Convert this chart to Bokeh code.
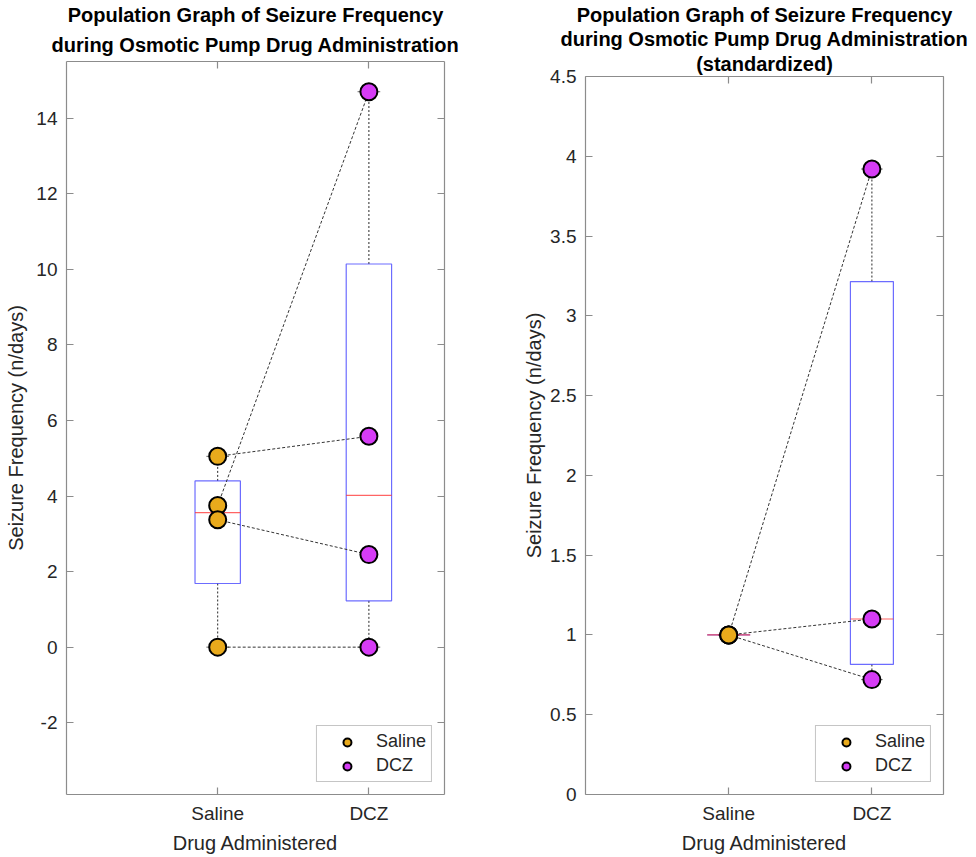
import numpy as np
from bokeh.plotting import figure
from bokeh.layouts import row, column
from bokeh.models import FixedTicker, LinearAxis, Range1d, Title
from bokeh.embed import file_html
from bokeh.resources import INLINE

# Treatment groups and their positions on the x axis
categories = ["Saline", "DCZ"]
cat_pos = [1, 2]

# Seizure frequency per animal (n/days); index i is the same animal in both groups
saline_freq = [5.05, 3.75, 3.37, 0.0]
dcz_freq = [5.58, 14.70, 2.45, 0.0]

# Frequencies standardized to each animal's saline value (zero-baseline animal left out)
saline_std = [1.0, 1.0, 1.0]
dcz_std = [1.10, 3.92, 0.72]

# Axis ticks
raw_ticks = [-2, 0, 2, 4, 6, 8, 10, 12, 14]
raw_tick_labels = ["-2", "0", "2", "4", "6", "8", "10", "12", "14"]
std_ticks = [0, 0.5, 1, 1.5, 2, 2.5, 3, 3.5, 4, 4.5]
std_tick_labels = ["0", "0.5", "1", "1.5", "2", "2.5", "3", "3.5", "4", "4.5"]

title_raw = ["Population Graph of Seizure Frequency",
             "during Osmotic Pump Drug Administration"]
title_std = title_raw + ["(standardized)"]
y_label = "Seizure Frequency (n/days)"
x_label = "Drug Administered"

FONT = "Liberation Sans"
TEXT = "#262626"
AXIS = "#8c8c8c"
SALINE_COLOR = "#e9aa1c"
DCZ_COLOR = "#d63cf6"
BOX_W = 0.3


def box_stats(values):
    d = np.sort(np.asarray(values, dtype=float))
    q1, med, q3 = np.percentile(d, [25, 50, 75], method="hazen")
    iqr = q3 - q1
    hi = d[d <= q3 + 1.5 * iqr].max()
    lo = d[d >= q1 - 1.5 * iqr].min()
    return q1, med, q3, lo, hi


def style_axis(ax, label_size="19px"):
    ax.axis_line_color = AXIS
    ax.axis_line_width = 1.2
    ax.major_tick_line_color = AXIS
    ax.major_tick_line_width = 1.2
    ax.minor_tick_line_color = None
    ax.major_tick_in = 7
    ax.major_tick_out = 0
    ax.major_label_text_font = FONT
    ax.major_label_text_font_size = label_size
    ax.major_label_text_color = TEXT
    ax.axis_label_text_font = FONT
    ax.axis_label_text_font_size = "20px"
    ax.axis_label_text_font_style = "normal"
    ax.axis_label_text_color = TEXT


def panel(title_lines, sal, dcz, y_lo, y_hi, ticks, tick_labels,
          fw, fh, b_left, b_right, b_top, b_bottom, ylab_standoff, title_standoff):
    p = figure(frame_width=fw, frame_height=fh,
               min_border_left=b_left, min_border_right=b_right,
               min_border_top=b_top, min_border_bottom=b_bottom,
               x_range=Range1d(0, 2.5), y_range=Range1d(y_lo, y_hi),
               output_backend="svg", toolbar_location=None, title=None)
    p.background_fill_color = "white"
    p.border_fill_color = "white"
    p.outline_line_color = None
    p.grid.visible = False

    # Axes: labelled left/bottom, tick-only mirrors right/top
    p.xaxis.ticker = FixedTicker(ticks=cat_pos)
    p.xaxis.major_label_overrides = {pos: lab for pos, lab in zip(cat_pos, categories)}
    p.xaxis.axis_label = x_label
    p.xaxis.major_label_standoff = 8
    p.xaxis.axis_label_standoff = 5
    p.yaxis.ticker = FixedTicker(ticks=ticks)
    p.yaxis.major_label_overrides = {t: lab for t, lab in zip(ticks, tick_labels)}
    p.yaxis.axis_label = y_label
    p.yaxis.major_label_standoff = 9
    p.yaxis.axis_label_standoff = ylab_standoff
    style_axis(p.xaxis[0])
    style_axis(p.yaxis[0])

    right = LinearAxis(ticker=FixedTicker(ticks=ticks), major_label_standoff=0)
    top = LinearAxis(ticker=FixedTicker(ticks=cat_pos), major_label_standoff=0)
    for ax in (right, top):
        style_axis(ax, label_size="0px")
        ax.major_label_text_alpha = 0
    p.add_layout(right, "right")
    p.add_layout(top, "above")

    # Title lines, each centred; the last line sits nearest the frame
    for i, line in enumerate(reversed(title_lines)):
        p.add_layout(Title(text=line, align="center", text_font=FONT,
                           text_font_size="20px", text_font_style="bold",
                           text_color="black",
                           standoff=title_standoff if i == 0 else 0), "above")

    # Box plots
    for pos, vals in zip(cat_pos, (sal, dcz)):
        q1, med, q3, lo, hi = box_stats(vals)
        p.segment(x0=[pos, pos], y0=[q3, q1], x1=[pos, pos], y1=[hi, lo],
                  line_color="black", line_width=1, line_dash="2 2", line_alpha=0.85)
        p.segment(x0=[pos - BOX_W / 4] * 2, y0=[hi, lo], x1=[pos + BOX_W / 4] * 2, y1=[hi, lo],
                  line_color="black", line_width=1, line_alpha=0.6)
        p.quad(left=[pos - BOX_W / 2], right=[pos + BOX_W / 2], bottom=[q1], top=[q3],
               fill_color=None, line_color="#3b3bff", line_width=1.2, line_alpha=0.75)
        p.segment(x0=[pos - BOX_W / 2], y0=[med], x1=[pos + BOX_W / 2], y1=[med],
                  line_color="#ff3030", line_width=1.2, line_alpha=0.75)

    # Paired lines connecting each animal's saline and DCZ values
    n = len(sal)
    p.segment(x0=[cat_pos[0]] * n, y0=sal, x1=[cat_pos[1]] * n, y1=dcz,
              line_color="#333333", line_width=1, line_dash="3 2")

    p.scatter([cat_pos[0]] * n, sal, size=17, fill_color=SALINE_COLOR,
              line_color="black", line_width=2, legend_label=categories[0])
    p.scatter([cat_pos[1]] * n, dcz, size=17, fill_color=DCZ_COLOR,
              line_color="black", line_width=2, legend_label=categories[1])

    lg = p.legend[0]
    lg.location = "bottom_right"
    lg.margin = 12
    lg.padding = 5
    lg.spacing = 3
    lg.glyph_width = 50
    lg.glyph_height = 20
    lg.label_height = 20
    lg.label_standoff = 4
    lg.label_text_font = FONT
    lg.label_text_font_size = "18px"
    lg.label_text_color = TEXT
    lg.border_line_color = AXIS
    lg.border_line_width = 1.2
    lg.background_fill_color = "white"
    lg.background_fill_alpha = 1
    return p


p_raw = panel(title_raw, saline_freq, dcz_freq, -3.9, 15.5, raw_ticks, raw_tick_labels,
              fw=378, fh=733, b_left=66, b_right=46, b_top=61, b_bottom=63,
              ylab_standoff=6, title_standoff=12)
p_std = panel(title_std, saline_std, dcz_std, 0, 4.5, std_ticks, std_tick_labels,
              fw=358, fh=718, b_left=95, b_right=33, b_top=76, b_bottom=63,
              ylab_standoff=2, title_standoff=3)

# Each panel sits in its own column so the two frames keep independent borders
layout = row(column(p_raw), column(p_std))
open("out.html", "w").write(file_html(layout, INLINE))
